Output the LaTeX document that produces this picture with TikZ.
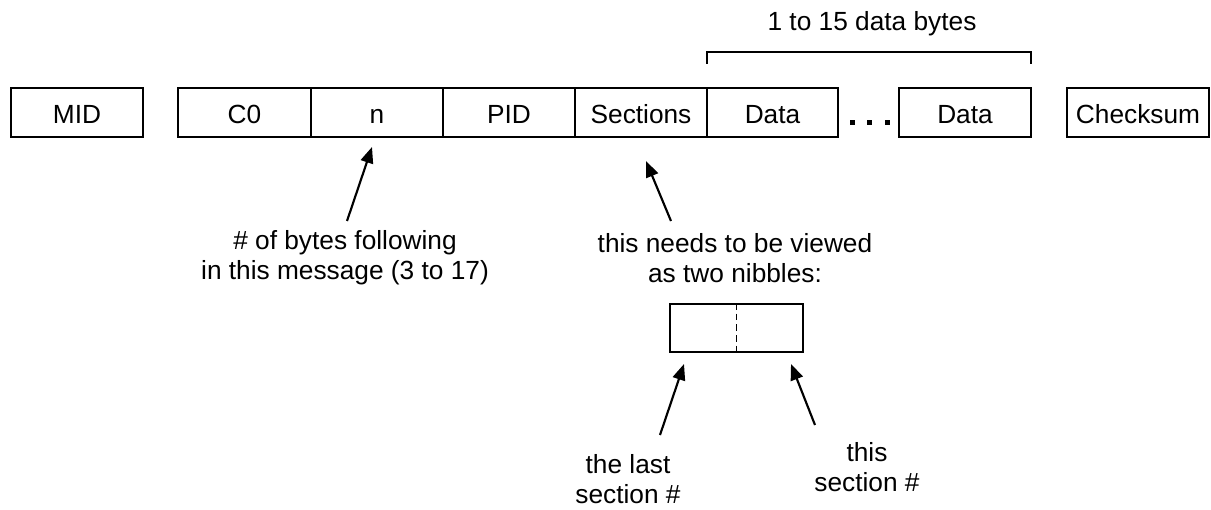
\documentclass[tikz,border=0pt]{standalone}
\usepackage{fontspec}
\setmainfont{Liberation Sans}
\usetikzlibrary{arrows.meta}
\tikzset{
  x=0.75pt, y=-0.75pt,
  txt/.style={font=\fontsize{19.7}{22.5}\selectfont, align=center, inner sep=0pt},
  field/.style={draw, line width=1.5pt, minimum height=37pt, inner sep=0pt, txt, text height=17.6pt, text depth=1.8pt},
  pointer/.style={line width=1.6pt, -{Triangle[length=12pt,width=9.5pt]}, shorten >=0pt},
  bracketline/.style={line width=1.5pt},
}
\begin{document}
\begin{tikzpicture}
\useasboundingbox (0,0) rectangle (1211,510);
% message fields
\node[field, minimum width=99pt]  (mid) at (77,112.5) {MID};
\node[field, minimum width=99.75pt] (c0) at (244.5,112.5) {C0};
\node[field, minimum width=99pt]  (n) at (377,112.5) {n};
\node[field, minimum width=99pt]  (pid) at (509,112.5) {PID};
\node[field, minimum width=99pt]  (sec) at (641,112.5) {Sections};
\node[field, minimum width=98.25pt] (d1) at (772.5,112.5) {Data};
\node[field, minimum width=99pt]  (d2) at (965,112.5) {Data};
\node[field, minimum width=106.5pt] (ck) at (1138,112.5) {Checksum};
% dots
\foreach \xx in {852,869,887} \fill (\xx-2.5,120.5) rectangle (\xx+2.5,125.5);
% bracket
\draw[bracketline] (706.5,64) -- (706.5,52.5) -- (1031,52.5) -- (1031,64);
\node[txt] (range) at (872,24) {1 to 15 data bytes};
% annotations
\node[txt] (ntext) at (345,258) {\# of bytes following\\in this message (3 to 17)};
\node[txt] (stext) at (735,258) {this needs to be viewed\\as two nibbles:};
\coordinate (nTail) at (347,221);
\coordinate (nTip) at (372,147);
\draw[pointer] (nTail) -- (nTip);
\coordinate (sTail) at (671,221);
\coordinate (sTip) at (646,161);
\draw[pointer] (sTail) -- (sTip);
% nibble box
\node[draw, line width=1.5pt, minimum width=99.75pt, minimum height=36pt, inner sep=0pt] (nib) at (736.5,328) {};
\draw[line width=1.1pt, dash pattern=on 5pt off 3pt] (nib.north) -- (nib.south);
\node[txt] (last) at (628,479) {the last\\section \#};
\node[txt] (this) at (867,467) {this\\section \#};
\coordinate (lTail) at (660,435);
\coordinate (lTip) at (684,364);
\draw[pointer] (lTail) -- (lTip);
\coordinate (rTail) at (815,425);
\coordinate (rTip) at (791,364);
\draw[pointer] (rTail) -- (rTip);
\end{tikzpicture}
\end{document}
